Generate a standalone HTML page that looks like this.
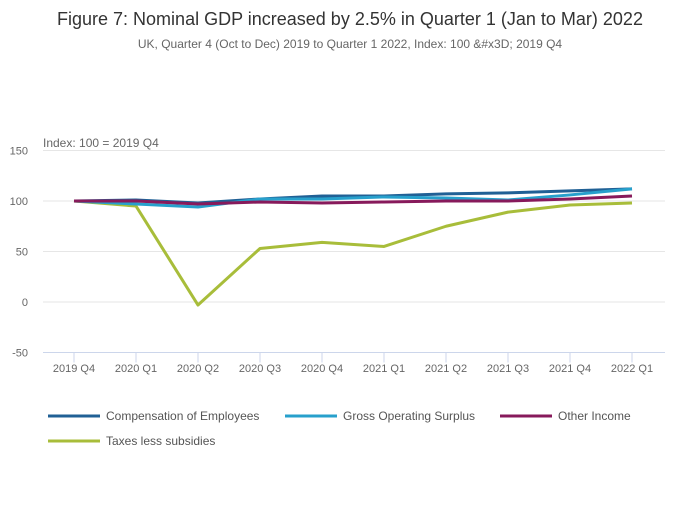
<!DOCTYPE html>
<html><head><meta charset="utf-8"><style>
body{margin:0;background:#fff;font-family:"Liberation Sans",sans-serif;}
svg text{font-family:"Liberation Sans",sans-serif;}
</style></head><body>
<svg id="chart" width="700" height="502" xmlns="http://www.w3.org/2000/svg">
<text x="350" y="25" text-anchor="middle" font-size="18" fill="#333">Figure 7: Nominal GDP increased by 2.5% in Quarter 1 (Jan to Mar) 2022</text>
<text x="350" y="48" text-anchor="middle" font-size="12" fill="#666">UK, Quarter 4 (Oct to Dec) 2019 to Quarter 1 2022, Index: 100 &amp;#x3D; 2019 Q4</text>
<text x="43" y="147" font-size="12" fill="#666">Index: 100 = 2019 Q4</text>
<g id="grid"></g><g id="lines"></g><g id="legend"></g>
</svg>
<script>
const categories=["2019 Q4","2020 Q1","2020 Q2","2020 Q3","2020 Q4","2021 Q1","2021 Q2","2021 Q3","2021 Q4","2022 Q1"];
const yTicks=[150,100,50,0,-50];
const compensation=[100,101,98,102,105,105,107,108,110,112];
const gos=[100,97,94,102,102,104,103,101,106,112];
const otherIncome=[100,100,97,99,98,99,100,100,102,105];
const taxes=[100,95,-3,53,59,55,75,89,96,98];
const seriesNames=["Compensation of Employees","Gross Operating Surplus","Other Income","Taxes less subsidies"];
const NS="http://www.w3.org/2000/svg";
const x=i=>74+i*62;
const y=v=>302-v*1.01;
function mk(t,a,p){const e=document.createElementNS(NS,t);for(const k in a)e.setAttribute(k,a[k]);p.appendChild(e);return e;}
const grid=document.getElementById('grid');
yTicks.forEach(v=>{
 const l=mk('line',{x1:43,x2:665,y1:y(v),y2:y(v),stroke:v===-50?'#ccd6eb':'#e6e6e6','stroke-width':1},grid);
 
 
 const t=mk('text',{x:28,y:y(v)+4,'text-anchor':'end','font-size':11,fill:'#666'},grid);t.textContent=v;
 
 
});
categories.forEach((c,i)=>{
 const tk=mk('line',{x1:x(i),x2:x(i),y1:y(-50),y2:y(-50)+10,stroke:'#ccd6eb'},grid);
 
 
 const t=mk('text',{x:x(i),y:372,'text-anchor':'middle','font-size':11,fill:'#666'},grid);t.textContent=c;
 
 
});
const data=[compensation,gos,otherIncome,taxes];
const colors=["#206095","#27a0cc","#871a5b","#a8bd3a"];
const order=[3,0,1,2];
const lines=document.getElementById('lines');
order.forEach(s=>{
 const p=mk('polyline',{points:data[s].map((v,i)=>x(i)+','+y(v)).join(' '),fill:'none',stroke:colors[s],'stroke-width':3,'stroke-linejoin':'round'},lines);
 
 
});
const leg=document.getElementById('legend');
const lpos=[[48,416],[285,416],[500,416],[48,441]];
seriesNames.forEach((n,s)=>{
 const g=mk('g',{},leg);
 
 
 mk('line',{x1:lpos[s][0],x2:lpos[s][0]+52,y1:lpos[s][1],y2:lpos[s][1],stroke:colors[s],'stroke-width':3},g);
 const t=mk('text',{x:lpos[s][0]+58,y:lpos[s][1]+4,'font-size':12,fill:'#555'},g);t.textContent=n;
});
</script>
</body></html>
